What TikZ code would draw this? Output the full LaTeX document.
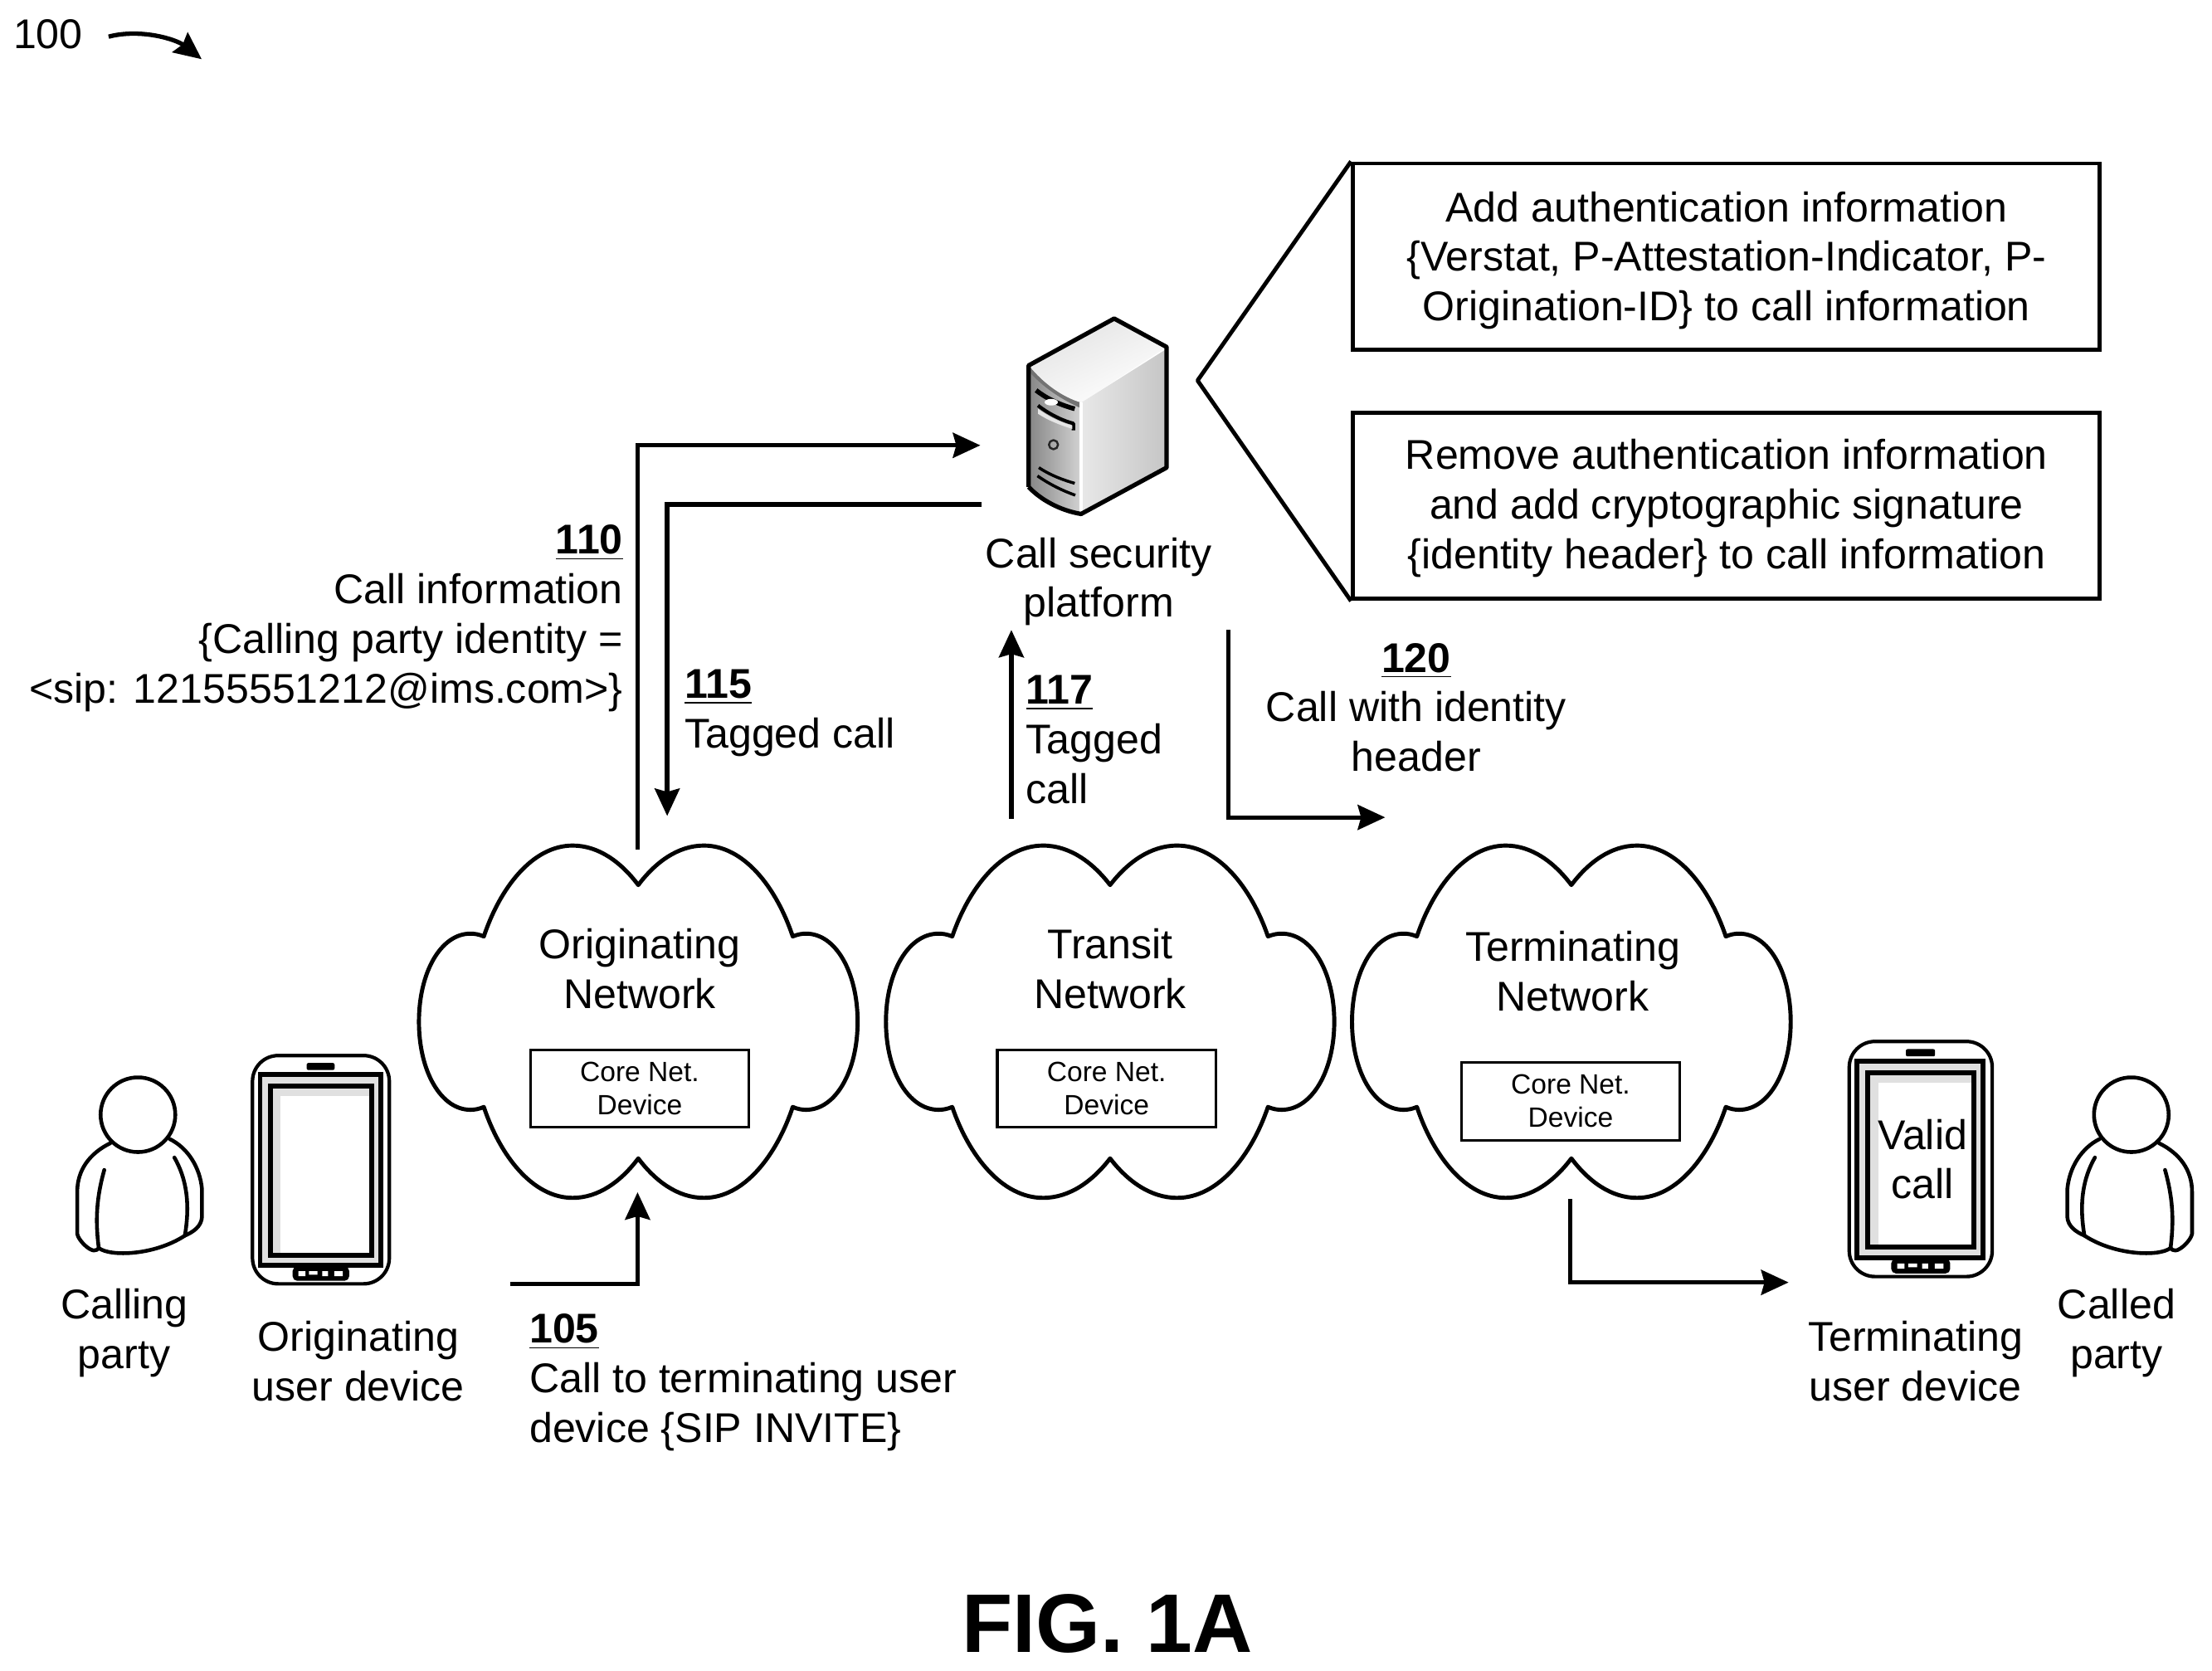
\documentclass[tikz,border=0pt]{standalone}
\usepackage{fontspec}
\setmainfont{Liberation Sans}
\usetikzlibrary{arrows.meta}
\definecolor{stipple}{gray}{0.88}
\tikzset{
  x=0.0170cm,y=-0.01699cm,
  ln/.style={line width=1.4pt,line join=round},
  conn/.style={line width=1.5pt,-{Stealth[length=3.3mm,width=3mm,inset=0.4mm]}},
  body/.style={font=\fontsize{14.25}{17}\selectfont,align=center,inner sep=0pt,text=black},
  corebox/.style={draw,line width=0.9pt,minimum width=2.633cm,minimum height=0.934cm,align=center,inner sep=0pt,font=\fontsize{9.55}{11.4}\selectfont},
  textbox/.style={draw,line width=1.4pt,minimum width=9cm,minimum height=2.243cm,align=center,inner sep=0pt,font=\fontsize{14.25}{17}\selectfont},
  pics/netcloud/.style={code={
    \draw[ln,fill=white] (0,-97)
      .. controls (-12,-113) and (-28,-125) .. (-46.5,-125)
      .. controls (-75,-125) and (-98,-95) .. (-109.5,-60.5)
      .. controls (-113,-62) and (-116,-62.5) .. (-119,-62.5)
      .. controls (-140,-62.5) and (-155.5,-35) .. (-155.5,0)
      .. controls (-155.5,35) and (-140,62.5) .. (-119,62.5)
      .. controls (-116,62.5) and (-113,62) .. (-109.5,60.5)
      .. controls (-98,95) and (-75,125) .. (-46.5,125)
      .. controls (-28,125) and (-12,113) .. (0,97)
      .. controls (12,113) and (28,125) .. (46.5,125)
      .. controls (75,125) and (98,95) .. (109.5,60.5)
      .. controls (113,62) and (116,62.5) .. (119,62.5)
      .. controls (140,62.5) and (155.5,35) .. (155.5,0)
      .. controls (155.5,-35) and (140,-62.5) .. (119,-62.5)
      .. controls (116,-62.5) and (113,-62) .. (109.5,-60.5)
      .. controls (98,-95) and (75,-125) .. (46.5,-125)
      .. controls (28,-125) and (12,-113) .. (0,-97) -- cycle;
  }},
  pics/phone/.style={code={
    \draw[line width=1.2pt,rounded corners=0.31cm] (0,0) rectangle (97,162);
    \fill[stipple] (5.4,13.7) rectangle (91,149);
    \fill[white] (12.6,21.5) rectangle (84.4,141.5);
    \fill[stipple] (12.6,21.5) rectangle (84.4,28.5);
    \fill[stipple] (12.6,21.5) rectangle (19.6,141.5);
    \draw[line width=1.7pt] (5.4,13.7) rectangle (91,149);
    \draw[line width=1.7pt] (12.6,21.5) rectangle (84.4,141.5);
    \fill[black,rounded corners=0.02cm] (38.4,5.3) rectangle (58.2,10.3);
    \draw[line width=1.0pt,rounded corners=0.04cm,fill=black] (29.5,150.7) rectangle (67.5,158.8);
    \fill[white] (32.5,153) rectangle (37.5,156.5) (40,153) rectangle (46,155.5)
       (49.5,153) rectangle (53.5,156.5) (58,153) rectangle (64,156.5);
  }},
  pics/person/.style={code={
    \begin{scope}[x=0.00333cm,y=-0.00333cm,line width=1.3pt,line cap=round,line join=round]
      \draw[fill=white] (0,0) circle[radius=0.45cm];
      \draw (-100,103) .. controls (-175,140) and (-220,200) .. (-220,280)
        -- (-220,432) .. controls (-215,455) and (-180,490) .. (-160,492)
        .. controls (-150,492) and (-145,488) .. (-142,483)
        .. controls (-100,515) and (60,510) .. (170,438)
        .. controls (200,425) and (230,405) .. (232,370)
        -- (232,270) .. controls (225,190) and (180,120) .. (115,88);
      \draw (-122,200) .. controls (-150,300) and (-155,380) .. (-142,483);
      \draw (132,155) .. controls (175,230) and (190,320) .. (170,438);
    \end{scope}
  }},
  pics/tower/.style={code={
    \begin{scope}[x=0.00333cm,y=-0.00333cm,line join=round]
      \shade[top color=gray!22,bottom color=white,shading angle=25]
        (268,305) -- (578,135) -- (768,238) -- (458,440)
        .. controls (390,420) and (320,370) .. (268,305) -- cycle;
      \shade[left color=gray!18,right color=gray!45]
        (768,245) -- (458,440) -- (458,843) -- (768,675) -- cycle;
      \shade[left color=gray!95,right color=gray!35]
        (268,305) .. controls (320,370) and (390,420) .. (458,440)
        -- (458,843) .. controls (380,830) and (310,790) .. (268,745) -- cycle;
      \fill[gray!90!black] (268,305) .. controls (320,370) and (390,420) .. (458,440)
        -- (458,460) .. controls (390,430) and (320,385) .. (268,325) -- cycle;
      \draw[white,line width=1.1pt] (458,440) -- (458,843);
      \draw[line width=1.5pt] (268,745) -- (268,305) -- (578,135) -- (768,238) -- (768,675) -- (458,843)
        .. controls (380,830) and (310,790) .. (268,745);
      \draw[line width=1.6pt] (295,395) .. controls (340,430) and (390,450) .. (435,462);
      \fill[white] (350,438) ellipse[x radius=0.08cm,y radius=0.04cm];
      \draw[line width=1.2pt] (302,450) .. controls (340,480) and (390,505) .. (430,515) -- (430,540);
      \fill[gray!20] (302,462) .. controls (340,490) and (390,515) .. (426,522) -- (426,535) .. controls (380,520) and (340,505) .. (302,480) -- cycle;
      \draw[line width=0.7pt,gray!30!black] (358,592) circle[radius=0.055cm];
      \draw[line width=1.0pt] (305,675) .. controls (350,705) and (400,722) .. (435,732);
      \draw[line width=1.0pt] (300,705) .. controls (350,740) and (400,762) .. (437,775);
    \end{scope}
  }},
}
\begin{document}
\begin{tikzpicture}
\fill[white] (0,0) rectangle (1568.2,1185.4);
\useasboundingbox (0,0) rectangle (1568.2,1185.4);

% clouds
\coordinate (cO) at (452.5,725);
\coordinate (cT) at (787,725);
\coordinate (cE) at (1114,725);
\pic at (cO) {netcloud};
\pic[xscale=1.022] at (cT) {netcloud};
\pic at (cE) {netcloud};
\node[body] (orig) at (453.5,687.3) {Originating\\Network};
\node[body] (trans) at (787,687.3) {Transit\\Network};
\node[body] (term) at (1115,689.3) {Terminating\\Network};
\node[corebox] (coreO) at (453.5,772.5) {Core Net.\\Device};
\node[corebox] (coreT) at (784.5,772.5) {Core Net.\\Device};
\node[corebox] (coreE) at (1113.5,781.5) {Core Net.\\Device};

% server
\coordinate (srvO) at (676.8,199.6);
\pic at (srvO) {tower};
\node[body] (srv) at (779,412.8) {Call security\\platform};

% callout boxes
\node[textbox] (boxA) at (1224,182) {\rule{0pt}{13.1pt}Add authentication information\\\{Verstat, P-Attestation-Indicator, P-\\Origination-ID\} to call information};
\node[textbox] (boxB) at (1224,359) {\rule{0pt}{12pt}Remove authentication information\\and add cryptographic signature\\\{identity header\} to call information};
\coordinate (tip) at (849,270);
\draw[ln] (boxA.north west) -- (tip) -- (boxB.south west);

% people and phones
\coordinate (pL) at (97.8,791);
\coordinate (pR) at (1511,791);
\pic at (pL) {person};
\pic[xscale=-1] at (pR) {person};
\coordinate (phL) at (179,749);
\coordinate (phR) at (1311,739);
\pic at (phL) {phone};
\pic[xscale=1.045,yscale=1.03] at (phR) {phone};
\node[body] (valid) at (1363,822.6) {Valid\\call};
\node[body] (calling) at (88,946) {Calling\\party};
\node[body] (ouser) at (254,966) {Originating\\user device};
\node[body] (tuser) at (1358,966) {Terminating\\user device};
\node[body] (called) at (1500.5,946) {Called\\party};

% labels
\node[body] (n100) at (34,24) {100};
\node[body,align=right,anchor=east] (l110) at (442,438.8) {\underline{\textbf{110}}\\Call information\\\{Calling party identity =\\<sip: 12155551212@ims.com>\}};
\node[body,align=left,anchor=west] (l115) at (485,506) {\underline{\textbf{115}}\\Tagged call};
\node[body,align=left,anchor=west] (l117) at (727,525) {\underline{\textbf{117}}\\Tagged\\call};
\node[body] (l120) at (1004,502) {\underline{\textbf{120}}\\Call with identity\\header};
\node[body,align=left,anchor=west] (l105) at (375,981) {\underline{\textbf{105}}\\Call to terminating user\\device \{SIP INVITE\}};
\node[inner sep=0pt,font=\fontsize{28.5}{33}\selectfont\bfseries] (fig) at (785,1152) {FIG. 1A};

% connector ends
\coordinate (a100e) at (143,42);
\coordinate (a100s) at (77,26);
\coordinate (a110s) at (452,603);
\coordinate (a110e) at (695,316);
\coordinate (a115s) at (696,358);
\coordinate (a115e) at (473,579);
\coordinate (a117s) at (717,581);
\coordinate (a117e) at (717,447);
\coordinate (a120s) at (871,447);
\coordinate (a120e) at (982,580);
\coordinate (a105s) at (362,911);
\coordinate (a105e) at (452,846);
\coordinate (aTs) at (1113,851);
\coordinate (aTe) at (1268,910);

\draw[conn] (a100s) .. controls (100,20) and (125,28) .. (a100e);
\draw[conn] (a110s) |- (a110e);
\draw[conn] (a115s) -| (a115e);
\draw[conn] (a117s) -- (a117e);
\draw[conn] (a120s) |- (a120e);
\draw[conn] (a105s) -| (a105e);
\draw[conn] (aTs) |- (aTe);
\end{tikzpicture}
\end{document}
